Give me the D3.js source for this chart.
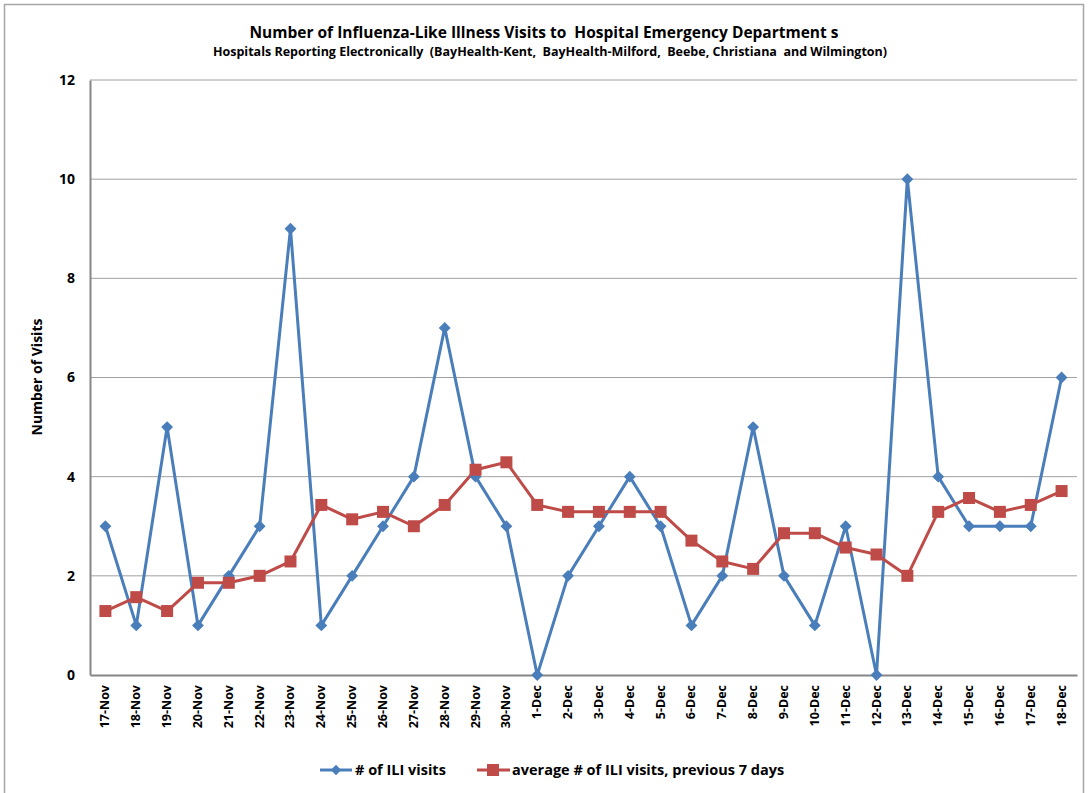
<!DOCTYPE html>
<html lang="en">
<head>
<meta charset="UTF-8">
<title>ILI visits</title>
<script src="https://cdn.jsdelivr.net/npm/d3@7"></script>
<style>
  body { margin: 0; background: #fff; }
  text { font-family: "Open Sans", sans-serif; font-weight: bold; fill: #000; white-space: pre; }
</style>
</head>
<body>
<svg id="chart" width="1088" height="793"></svg>
<script>
    const days = ["17-Nov","18-Nov","19-Nov","20-Nov","21-Nov","22-Nov","23-Nov","24-Nov","25-Nov","26-Nov",
        "27-Nov","28-Nov","29-Nov","30-Nov","1-Dec","2-Dec","3-Dec","4-Dec","5-Dec","6-Dec","7-Dec","8-Dec",
        "9-Dec","10-Dec","11-Dec","12-Dec","13-Dec","14-Dec","15-Dec","16-Dec","17-Dec","18-Dec"];
    const iliVisits = [3,1,5,1,2,3,9,1,2,3,4,7,4,3,0,2,3,4,3,1,2,5,2,1,3,0,10,4,3,3,3,6];
    const avgVisits = [1.29,1.57,1.29,1.86,1.86,2,2.29,3.43,3.14,3.29,3,3.43,4.14,4.29,3.43,3.29,3.29,3.29,3.29,
        2.71,2.29,2.14,2.86,2.86,2.57,2.43,2,3.29,3.57,3.29,3.43,3.71];
    const yTicks = [0,2,4,6,8,10,12];

    const blue = "#4A7EBB", red = "#BE4B48";
    let svg = d3.select("#chart");
    const plotLeft = 90, plotRight = 1077, plotTop = 80, plotBottom = 675;

    // outer chart border
    svg.append("rect").attr("x", 4.5).attr("y", 4.5).attr("width", 1079).attr("height", 800)
        .attr("fill", "none").attr("stroke", "#a6a6a6").attr("stroke-width", 1.5);

    svg.append("text").attr("x", 544).attr("y", 38).attr("text-anchor", "middle")
        .style("font-size", "15.5px")
        .text("Number of Influenza-Like Illness Visits to  Hospital Emergency Department s");
    svg.append("text").attr("x", 550).attr("y", 56).attr("text-anchor", "middle")
        .style("font-size", "12.5px")
        .text("Hospitals Reporting Electronically  (BayHealth-Kent,  BayHealth-Milford,  Beebe, Christiana  and Wilmington)");

    let x = d3.scaleBand().domain(days).range([plotLeft, plotRight]);
    let y = d3.scaleLinear().domain([0, 12]).range([plotBottom, plotTop]);

    // gridlines
    svg.append("g").selectAll("line").data(yTicks.filter(d => d > 0)).join("line")
        .attr("x1", plotLeft).attr("x2", plotRight)
        .attr("y1", d => y(d)).attr("y2", d => y(d))
        .attr("stroke", "#a0a0a0").attr("stroke-width", 1);

    let yAxis = svg.append("g").attr("transform", `translate(${plotLeft},0)`)
        .call(d3.axisLeft(y).tickValues(yTicks).tickSize(0).tickPadding(15));
    yAxis.select(".domain").attr("stroke", "#868686").attr("stroke-width", 2);
    yAxis.selectAll("text").style("font-size", "14px");

    let xAxis = svg.append("g").attr("transform", `translate(0,${plotBottom})`)
        .call(d3.axisBottom(x).tickSize(0).tickPadding(0));
    xAxis.select(".domain").attr("stroke", "#868686").attr("stroke-width", 2);
    xAxis.selectAll("text")
        .style("font-size", "12.5px")
        .attr("text-anchor", "end").attr("dy", null)
        .attr("transform", "translate(4,10) rotate(-90)");

    svg.append("text").attr("transform", "translate(42,377) rotate(-90)")
        .attr("text-anchor", "middle").style("font-size", "14px")
        .text("Number of Visits");

    const cx = d => x(d) + x.bandwidth() / 2;
    const line = vals => d3.line().x((v, i) => cx(days[i])).y(v => y(v))(vals);

    svg.append("path").attr("d", line(iliVisits)).attr("fill", "none")
        .attr("stroke", blue).attr("stroke-width", 3).attr("stroke-linejoin", "round");
    svg.append("path").attr("d", line(avgVisits)).attr("fill", "none")
        .attr("stroke", red).attr("stroke-width", 3).attr("stroke-linejoin", "round");

    svg.append("g").selectAll("path").data(iliVisits).join("path")
        .attr("d", d3.symbol(d3.symbolDiamond2, 90))
        .attr("transform", (v, i) => `translate(${cx(days[i])},${y(v)})`)
        .attr("fill", blue);
    svg.append("g").selectAll("rect").data(avgVisits).join("rect")
        .attr("x", (v, i) => cx(days[i]) - 6).attr("y", v => y(v) - 6)
        .attr("width", 12).attr("height", 12).attr("fill", red);

    // legend
    let legend = svg.append("g").attr("transform", "translate(0,770)");
    legend.append("line").attr("x1", 320).attr("x2", 352).attr("stroke", blue).attr("stroke-width", 3);
    legend.append("path").attr("d", d3.symbol(d3.symbolDiamond2, 70)).attr("transform", "translate(336,0)").attr("fill", blue);
    legend.append("text").attr("x", 355).attr("y", 5).style("font-size", "14.5px").text("# of ILI visits");
    legend.append("line").attr("x1", 477).attr("x2", 510).attr("stroke", red).attr("stroke-width", 3);
    legend.append("rect").attr("x", 487).attr("y", -6).attr("width", 12).attr("height", 12).attr("fill", red);
    legend.append("text").attr("x", 512).attr("y", 5).style("font-size", "14.5px").text("average # of ILI visits, previous 7 days");
</script>
</body>
</html>
